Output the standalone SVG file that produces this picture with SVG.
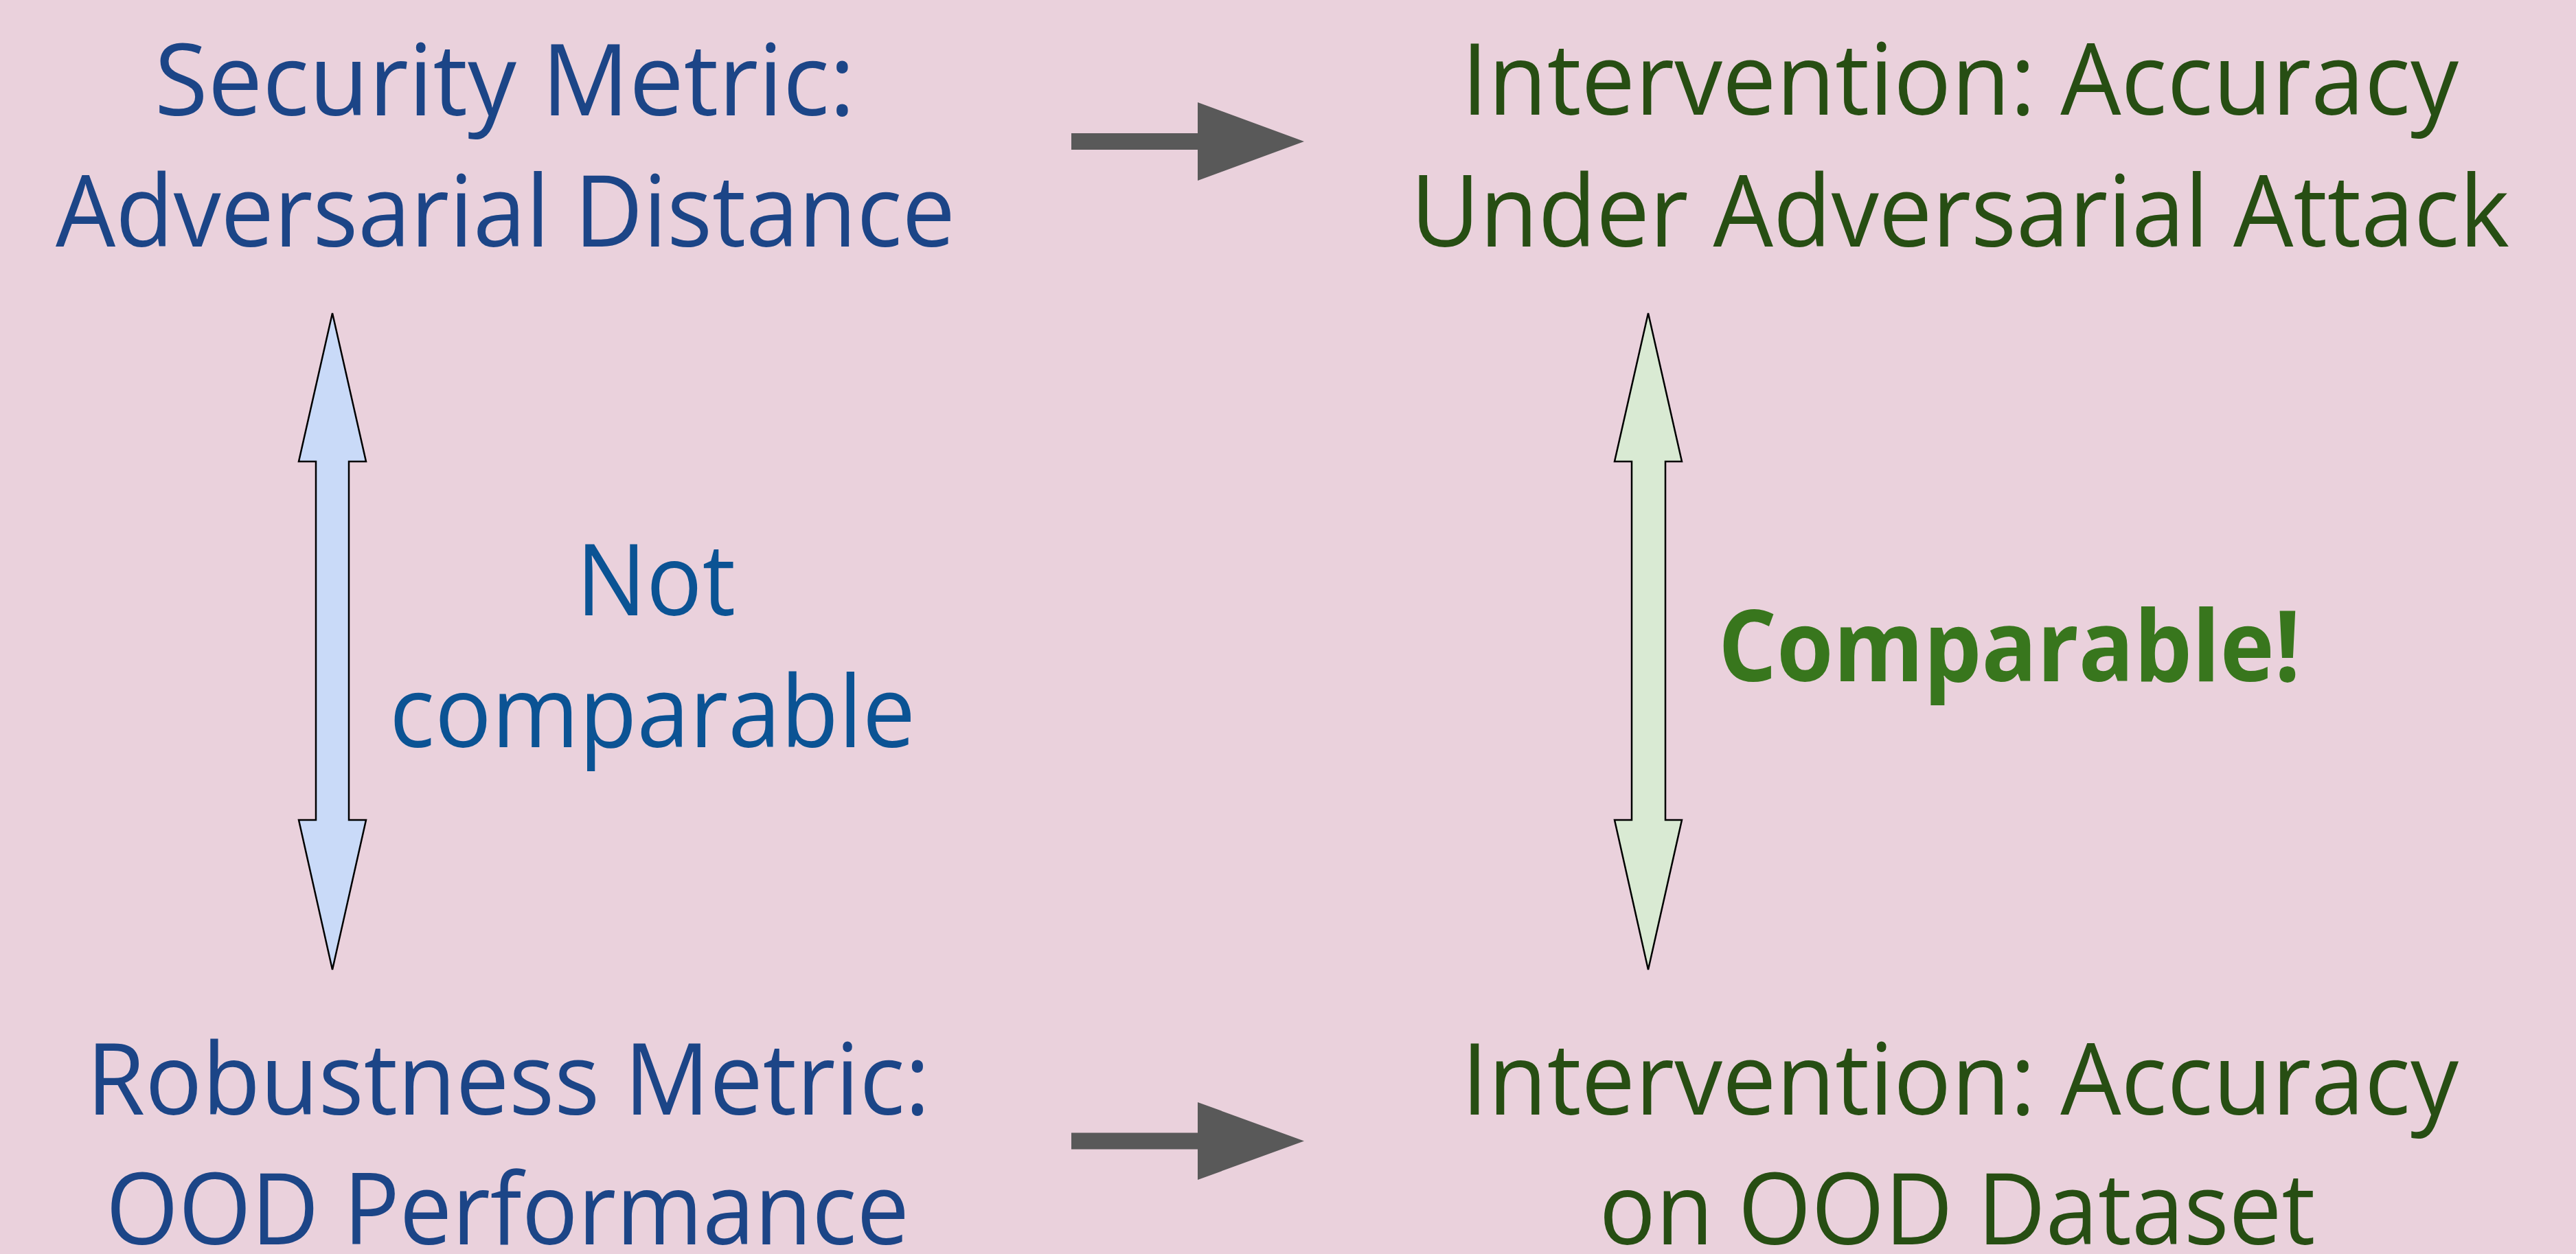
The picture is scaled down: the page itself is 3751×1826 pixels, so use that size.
<svg xmlns="http://www.w3.org/2000/svg" width="3751" height="1826" viewBox="0 0 3751 1826">
  <style>
    .t { font-family: "Open Sans", "Noto Sans", "Liberation Sans", sans-serif; font-size: 144px; text-anchor: middle; }
    .blue { fill: #1c4587; }
    .green { fill: #274e13; }
    .note { fill: #0b5394; }
    .ok { fill: #38761d; font-weight: bold; }
    .flow { fill: #595959; }
    .dbl { stroke: #000000; stroke-width: 2.5; stroke-linejoin: miter; }
  </style>
  <rect x="0" y="0" width="3751" height="1826" fill="#ead1dc"/>

  <g id="security-metric">
    <text class="t blue" x="735" y="168" textLength="1020" lengthAdjust="spacingAndGlyphs">Security Metric:</text>
    <text class="t blue" x="736" y="359" textLength="1310" lengthAdjust="spacingAndGlyphs">Adversarial Distance</text>
  </g>
  <g id="intervention-adversarial">
    <text class="t green" x="2854" y="167" textLength="1452" lengthAdjust="spacingAndGlyphs">Intervention: Accuracy</text>
    <text class="t green" x="2854" y="359" textLength="1600" lengthAdjust="spacingAndGlyphs">Under Adversarial Attack</text>
  </g>
  <g id="robustness-metric">
    <text class="t blue" x="740" y="1623" textLength="1228" lengthAdjust="spacingAndGlyphs">Robustness Metric:</text>
    <text class="t blue" x="739" y="1812" textLength="1170" lengthAdjust="spacingAndGlyphs">OOD Performance</text>
  </g>
  <g id="intervention-ood">
    <text class="t green" x="2854" y="1623" textLength="1452" lengthAdjust="spacingAndGlyphs">Intervention: Accuracy</text>
    <text class="t green" x="2850" y="1812" textLength="1043" lengthAdjust="spacingAndGlyphs">on OOD Dataset</text>
  </g>

  <g id="connectors">
    <polygon class="flow" points="1560,194 1744,194 1744,149 1899,206 1744,263 1744,218 1560,218"/>
    <polygon class="flow" points="1560,1649.5 1744,1649.5 1744,1605 1899,1661.5 1744,1718 1744,1673.5 1560,1673.5"/>
    <polygon class="dbl" fill="#c9daf8" points="484,456 533,672 508,672 508,1194 533,1194 484,1412 435,1194 460,1194 460,672 435,672"/>
    <polygon class="dbl" fill="#d9ead3" points="2400,456 2449,672 2425,672 2425,1194 2449,1194 2400,1412 2351,1194 2376,1194 2376,672 2351,672"/>
  </g>

  <g id="label-not-comparable">
    <text class="t note" x="955" y="896" textLength="232" lengthAdjust="spacingAndGlyphs">Not</text>
    <text class="t note" x="950" y="1088" textLength="766" lengthAdjust="spacingAndGlyphs">comparable</text>
  </g>
  <g id="label-comparable">
    <text class="t ok" x="2926" y="992" textLength="848" lengthAdjust="spacingAndGlyphs">Comparable!</text>
  </g>
</svg>
